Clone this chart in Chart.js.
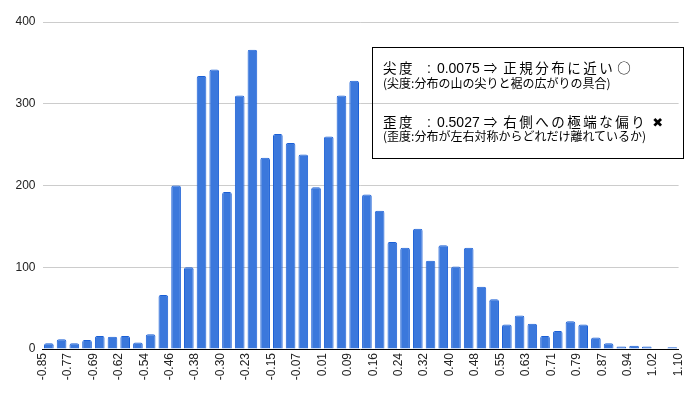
<!DOCTYPE html>
<html>
<head>
<meta charset="utf-8">
<script src="https://cdn.jsdelivr.net/npm/chart.js@4"></script>
<style>
  body { margin: 0; background: #fff; }
  #wrap { position: relative; width: 697px; height: 397px; }
  #note {
    position: absolute; left: 372px; top: 47px; width: 310px; height: 110px;
    border: 1px solid #000; font-family: "Noto Sans CJK JP", sans-serif; color: #000;
  }
  #note > div { position: absolute; left: 10px; white-space: nowrap; }
  .big { font-size: 13.5px; line-height: 14px; letter-spacing: 2.5px; }
  .big span { letter-spacing: 0; }
  .big .colon { font-family: "Liberation Sans"; font-size: 14px; margin: 0 6px 0 12px; }
  .big .num { font-family: "Liberation Sans"; font-size: 14px; }
  .big .arrow { margin: 0 6px 0 4px; }
  .big .mark { margin-left: 2px; }
  .big .cross { font-family: "DejaVu Sans"; font-size: 13px; margin-left: 5px; }
  .small { font-size: 12px; line-height: 12px; letter-spacing: 0; }
</style>
</head>
<body>
<div id="wrap">
  <canvas id="histChart" width="697" height="397"></canvas>
  <div id="note">
    <div class="big" style="top:12px">尖度<span class="colon">:</span><span class="num">0.0075</span><span class="arrow">⇒</span>正規分布に近い<span class="mark">○</span></div>
    <div class="small" style="top:28.5px">(尖度:分布の山の尖りと裾の広がりの具合)</div>
    <div class="big" style="top:66px">歪度<span class="colon">:</span><span class="num">0.5027</span><span class="arrow">⇒</span>右側への極端な偏り<span class="cross">✖</span></div>
    <div class="small" style="top:82px">(歪度:分布が左右対称からどれだけ離れているか)</div>
  </div>
</div>
<script>
// bin edges of the histogram (51 edges -> 50 bins)
var binEdges = [-0.85, -0.811, -0.772, -0.733, -0.694, -0.655, -0.616, -0.577, -0.538, -0.499,
                -0.46, -0.421, -0.382, -0.343, -0.304, -0.265, -0.226, -0.187, -0.148, -0.109,
                -0.07, -0.031, 0.008, 0.047, 0.086, 0.125, 0.164, 0.203, 0.242, 0.281,
                0.32, 0.359, 0.398, 0.437, 0.476, 0.515, 0.554, 0.593, 0.632, 0.671,
                0.71, 0.749, 0.788, 0.827, 0.866, 0.905, 0.944, 0.983, 1.022, 1.061, 1.10];

// counts per bin
var counts = [7, 12, 7, 11, 16, 15, 16, 8, 18, 66,
              200, 100, 334, 342, 192, 310, 366, 234, 263, 252,
              238, 198, 260, 310, 328, 189, 169, 131, 124, 147,
              108, 127, 101, 124, 76, 61, 30, 41, 31, 16,
              22, 34, 30, 14, 7, 3, 4, 3, 0, 2];

// x tick labels (every other bin edge)
var tickLabels = ['-0.85', '-0.77', '-0.69', '-0.62', '-0.54', '-0.46', '-0.38', '-0.30', '-0.23', '-0.15',
                  '-0.07', '0.01', '0.09', '0.16', '0.24', '0.32', '0.40', '0.48', '0.55', '0.63',
                  '0.71', '0.79', '0.87', '0.94', '1.02', '1.10'];

var yTicks = [0, 100, 200, 300, 400];

var points = [];
for (var i = 0; i < counts.length; i++) {
    points.push({ x: (binEdges[i] + binEdges[i + 1]) / 2, y: counts[i] });
}

var ctx = document.getElementById('histChart');
var histChart = new Chart(ctx, {
    type: 'bar',
    data: {
        datasets: [{
            data: points,
            backgroundColor: '#3b78dc',
            borderColor: '#1a5fd6',
            borderWidth: 1,
            borderRadius: { topLeft: 2, topRight: 2 },
            borderSkipped: 'start',
            barPercentage: 0.76,
            categoryPercentage: 1.0
        }]
    },
    options: {
        responsive: false,
        animation: false,
        layout: { padding: { top: 22, right: 13, left: 0, bottom: 0 } },
        plugins: { legend: { display: false }, tooltip: { enabled: false } },
        scales: {
            x: {
                type: 'linear',
                offset: false,
                min: binEdges[0],
                max: binEdges[binEdges.length - 1],
                afterBuildTicks: function (scale) {
                    var t = [];
                    for (var k = 0; k < binEdges.length; k += 2) t.push({ value: binEdges[k] });
                    scale.ticks = t;
                },
                afterFit: function (scale) { scale.height = 48; },
                grid: { display: false, drawTicks: false },
                border: { display: true, color: '#000', width: 1 },
                ticks: {
                    autoSkip: false,
                    minRotation: 90,
                    maxRotation: 90,
                    padding: 4,
                    color: '#222',
                    font: { family: 'Liberation Sans', size: 12 },
                    callback: function (v, idx) { return tickLabels[idx]; }
                }
            },
            y: {
                min: 0,
                max: 400,
                afterBuildTicks: function (scale) {
                    scale.ticks = yTicks.map(function (v) { return { value: v }; });
                },
                afterFit: function (scale) { scale.width = 42.5; },
                grid: { color: '#cccccc', drawTicks: false },
                border: { display: false },
                ticks: {
                    padding: 7,
                    color: '#222',
                    font: { family: 'Liberation Sans', size: 12 }
                }
            }
        }
    }
});
</script>
</body>
</html>
